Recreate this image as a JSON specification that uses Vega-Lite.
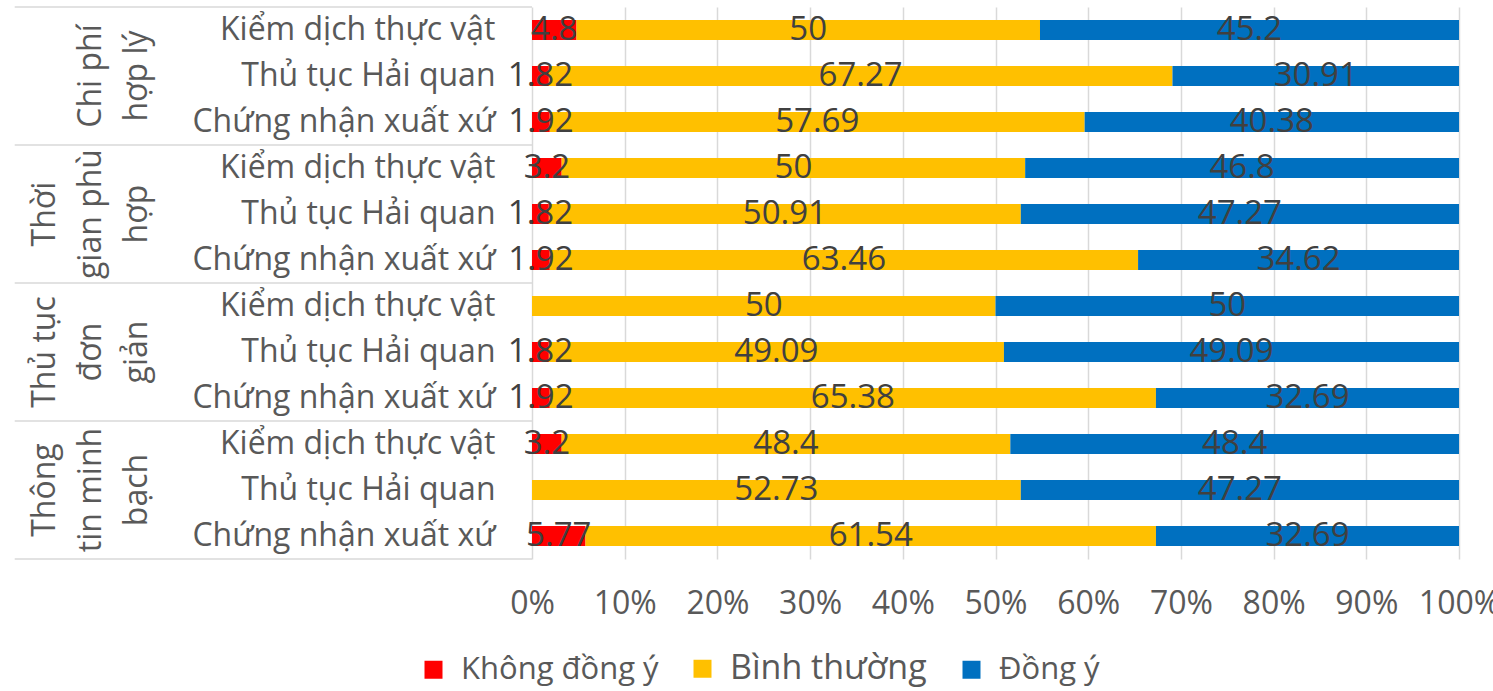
{
  "$schema": "https://vega.github.io/schema/vega-lite/v6.json",
  "width": 927,
  "height": 552,
  "autosize": {"type": "none"},
  "padding": {"left": 532, "top": 7, "right": 34, "bottom": 132},
  "background": "white",
  "config": {
    "view": {"stroke": null},
    "font": "Open Sans",
    "axisY": {
      "ticks": false, "domain": false, "grid": false,
      "labelExpr": "split(datum.label, '/')[1]",
      "labelFontSize": 32, "labelColor": "#595959", "labelPadding": 37,
      "labelLimit": 400
    },
    "axisX": {
      "grid": true, "gridColor": "#D9D9D9", "gridWidth": 1.5,
      "domain": false, "ticks": false, "labelFlush": false,
      "labelFontSize": 32, "labelColor": "#595959", "labelPadding": 29
    }
  },
  "data": {
    "values": [
      {"group": "Chi phí\nhợp lý", "item": "Kiểm dịch thực vật", "cat": "Không đồng ý", "value": 4.8},
      {"group": "Chi phí\nhợp lý", "item": "Kiểm dịch thực vật", "cat": "Bình thường", "value": 50},
      {"group": "Chi phí\nhợp lý", "item": "Kiểm dịch thực vật", "cat": "Đồng ý", "value": 45.2},
      {"group": "Chi phí\nhợp lý", "item": "Thủ tục Hải quan", "cat": "Không đồng ý", "value": 1.82},
      {"group": "Chi phí\nhợp lý", "item": "Thủ tục Hải quan", "cat": "Bình thường", "value": 67.27},
      {"group": "Chi phí\nhợp lý", "item": "Thủ tục Hải quan", "cat": "Đồng ý", "value": 30.91},
      {"group": "Chi phí\nhợp lý", "item": "Chứng nhận xuất xứ", "cat": "Không đồng ý", "value": 1.92},
      {"group": "Chi phí\nhợp lý", "item": "Chứng nhận xuất xứ", "cat": "Bình thường", "value": 57.69},
      {"group": "Chi phí\nhợp lý", "item": "Chứng nhận xuất xứ", "cat": "Đồng ý", "value": 40.38},
      {"group": "Thời\ngian phù\nhợp", "item": "Kiểm dịch thực vật", "cat": "Không đồng ý", "value": 3.2},
      {"group": "Thời\ngian phù\nhợp", "item": "Kiểm dịch thực vật", "cat": "Bình thường", "value": 50},
      {"group": "Thời\ngian phù\nhợp", "item": "Kiểm dịch thực vật", "cat": "Đồng ý", "value": 46.8},
      {"group": "Thời\ngian phù\nhợp", "item": "Thủ tục Hải quan", "cat": "Không đồng ý", "value": 1.82},
      {"group": "Thời\ngian phù\nhợp", "item": "Thủ tục Hải quan", "cat": "Bình thường", "value": 50.91},
      {"group": "Thời\ngian phù\nhợp", "item": "Thủ tục Hải quan", "cat": "Đồng ý", "value": 47.27},
      {"group": "Thời\ngian phù\nhợp", "item": "Chứng nhận xuất xứ", "cat": "Không đồng ý", "value": 1.92},
      {"group": "Thời\ngian phù\nhợp", "item": "Chứng nhận xuất xứ", "cat": "Bình thường", "value": 63.46},
      {"group": "Thời\ngian phù\nhợp", "item": "Chứng nhận xuất xứ", "cat": "Đồng ý", "value": 34.62},
      {"group": "Thủ tục\nđơn\ngiản", "item": "Kiểm dịch thực vật", "cat": "Không đồng ý", "value": 0},
      {"group": "Thủ tục\nđơn\ngiản", "item": "Kiểm dịch thực vật", "cat": "Bình thường", "value": 50},
      {"group": "Thủ tục\nđơn\ngiản", "item": "Kiểm dịch thực vật", "cat": "Đồng ý", "value": 50},
      {"group": "Thủ tục\nđơn\ngiản", "item": "Thủ tục Hải quan", "cat": "Không đồng ý", "value": 1.82},
      {"group": "Thủ tục\nđơn\ngiản", "item": "Thủ tục Hải quan", "cat": "Bình thường", "value": 49.09},
      {"group": "Thủ tục\nđơn\ngiản", "item": "Thủ tục Hải quan", "cat": "Đồng ý", "value": 49.09},
      {"group": "Thủ tục\nđơn\ngiản", "item": "Chứng nhận xuất xứ", "cat": "Không đồng ý", "value": 1.92},
      {"group": "Thủ tục\nđơn\ngiản", "item": "Chứng nhận xuất xứ", "cat": "Bình thường", "value": 65.38},
      {"group": "Thủ tục\nđơn\ngiản", "item": "Chứng nhận xuất xứ", "cat": "Đồng ý", "value": 32.69},
      {"group": "Thông\ntin minh\nbạch", "item": "Kiểm dịch thực vật", "cat": "Không đồng ý", "value": 3.2},
      {"group": "Thông\ntin minh\nbạch", "item": "Kiểm dịch thực vật", "cat": "Bình thường", "value": 48.4},
      {"group": "Thông\ntin minh\nbạch", "item": "Kiểm dịch thực vật", "cat": "Đồng ý", "value": 48.4},
      {"group": "Thông\ntin minh\nbạch", "item": "Thủ tục Hải quan", "cat": "Không đồng ý", "value": 0},
      {"group": "Thông\ntin minh\nbạch", "item": "Thủ tục Hải quan", "cat": "Bình thường", "value": 52.73},
      {"group": "Thông\ntin minh\nbạch", "item": "Thủ tục Hải quan", "cat": "Đồng ý", "value": 47.27},
      {"group": "Thông\ntin minh\nbạch", "item": "Chứng nhận xuất xứ", "cat": "Không đồng ý", "value": 5.77},
      {"group": "Thông\ntin minh\nbạch", "item": "Chứng nhận xuất xứ", "cat": "Bình thường", "value": 61.54},
      {"group": "Thông\ntin minh\nbạch", "item": "Chứng nhận xuất xứ", "cat": "Đồng ý", "value": 32.69}
    ]
  },
  "transform": [
    {"calculate": "datum.group + '/' + datum.item", "as": "key"},
    {"calculate": "indexof(['Không đồng ý','Bình thường','Đồng ý'], datum.cat)", "as": "ord"},
    {"calculate": "split(datum.group, '\\n')", "as": "lines"}
  ],
  "layer": [
    {
      "mark": {"type": "bar", "height": 20},
      "encoding": {
        "y": {"field": "key", "type": "nominal", "sort": null, "title": null,
              "scale": {"paddingInner": 0, "paddingOuter": 0}},
        "x": {
          "field": "value", "type": "quantitative", "stack": "normalize", "title": null,
          "scale": {"domain": [0, 1]},
          "axis": {"format": "%", "values": [0, 0.1, 0.2, 0.3, 0.4, 0.5, 0.6, 0.7, 0.8, 0.9, 1]}
        },
        "color": {
          "field": "cat", "type": "nominal",
          "scale": {"domain": ["Không đồng ý", "Bình thường", "Đồng ý"], "range": ["#FF0000", "#FFC000", "#0070C0"]},
          "legend": {
            "title": null, "orient": "none", "legendX": -114, "legendY": 646,
            "direction": "horizontal", "symbolType": "square", "symbolSize": 324,
            "symbolStrokeWidth": 0, "labelFontSize": 31, "labelColor": "#595959",
            "labelOffset": 12, "columnPadding": 28, "labelLimit": 400, "gridAlign": "all",
            "encode": {"labels": {"update": {"fontSize": {"signal": "datum.label === 'Bình thường' ? 34 : 31"}}}}
          }
        },
        "order": {"field": "ord", "type": "quantitative"}
      }
    },
    {
      "transform": [{"filter": "datum.value > 0"}],
      "mark": {"type": "text", "fontSize": 33, "color": "#404040", "baseline": "middle"},
      "encoding": {
        "y": {"field": "key", "type": "nominal", "sort": null, "title": null},
        "x": {"field": "value", "type": "quantitative", "stack": "normalize", "bandPosition": 0.5, "title": null},
        "detail": {"field": "cat"},
        "order": {"field": "ord", "type": "quantitative"},
        "text": {"field": "value", "type": "quantitative", "format": "~g"}
      }
    },
    {
      "transform": [
        {"filter": "datum.item === 'Thủ tục Hải quan' && datum.cat === 'Đồng ý'"},
        {"calculate": "datum.lines[length(datum.lines) - 1]", "as": "line"}
      ],
      "mark": {"type": "text", "angle": 270, "align": "center", "baseline": "middle", "fontSize": 32, "color": "#595959"},
      "encoding": {
        "y": {"field": "key", "type": "nominal", "sort": null, "title": null},
        "x": {"datum": -0.4261},
        "text": {"field": "line"}
      }
    },
    {
      "transform": [
        {"filter": "datum.item === 'Thủ tục Hải quan' && datum.cat === 'Đồng ý'"},
        {"calculate": "datum.lines[length(datum.lines) - 2]", "as": "line"}
      ],
      "mark": {"type": "text", "angle": 270, "align": "center", "baseline": "middle", "fontSize": 32, "color": "#595959"},
      "encoding": {
        "y": {"field": "key", "type": "nominal", "sort": null, "title": null},
        "x": {"datum": -0.4757},
        "text": {"field": "line"}
      }
    },
    {
      "transform": [
        {"filter": "datum.item === 'Thủ tục Hải quan' && datum.cat === 'Đồng ý' && length(datum.lines) > 2"},
        {"calculate": "datum.lines[length(datum.lines) - 3]", "as": "line"}
      ],
      "mark": {"type": "text", "angle": 270, "align": "center", "baseline": "middle", "fontSize": 32, "color": "#595959"},
      "encoding": {
        "y": {"field": "key", "type": "nominal", "sort": null, "title": null},
        "x": {"datum": -0.5254},
        "text": {"field": "line"}
      }
    },
    {
      "transform": [{"filter": "datum.item === 'Kiểm dịch thực vật' && datum.cat === 'Đồng ý'"}],
      "mark": {"type": "rule", "color": "#D9D9D9", "strokeWidth": 1.5},
      "encoding": {
        "y": {"field": "key", "type": "nominal", "sort": null, "title": null, "bandPosition": 0},
        "x": {"datum": -0.558},
        "x2": {"datum": 0}
      }
    },
    {
      "transform": [{"filter": "datum.group === 'Thông\\ntin minh\\nbạch' && datum.item === 'Chứng nhận xuất xứ' && datum.cat === 'Đồng ý'"}],
      "mark": {"type": "rule", "color": "#D9D9D9", "strokeWidth": 1.5},
      "encoding": {
        "y": {"field": "key", "type": "nominal", "sort": null, "title": null, "bandPosition": 1},
        "x": {"datum": -0.558},
        "x2": {"datum": 0}
      }
    }
  ]
}
